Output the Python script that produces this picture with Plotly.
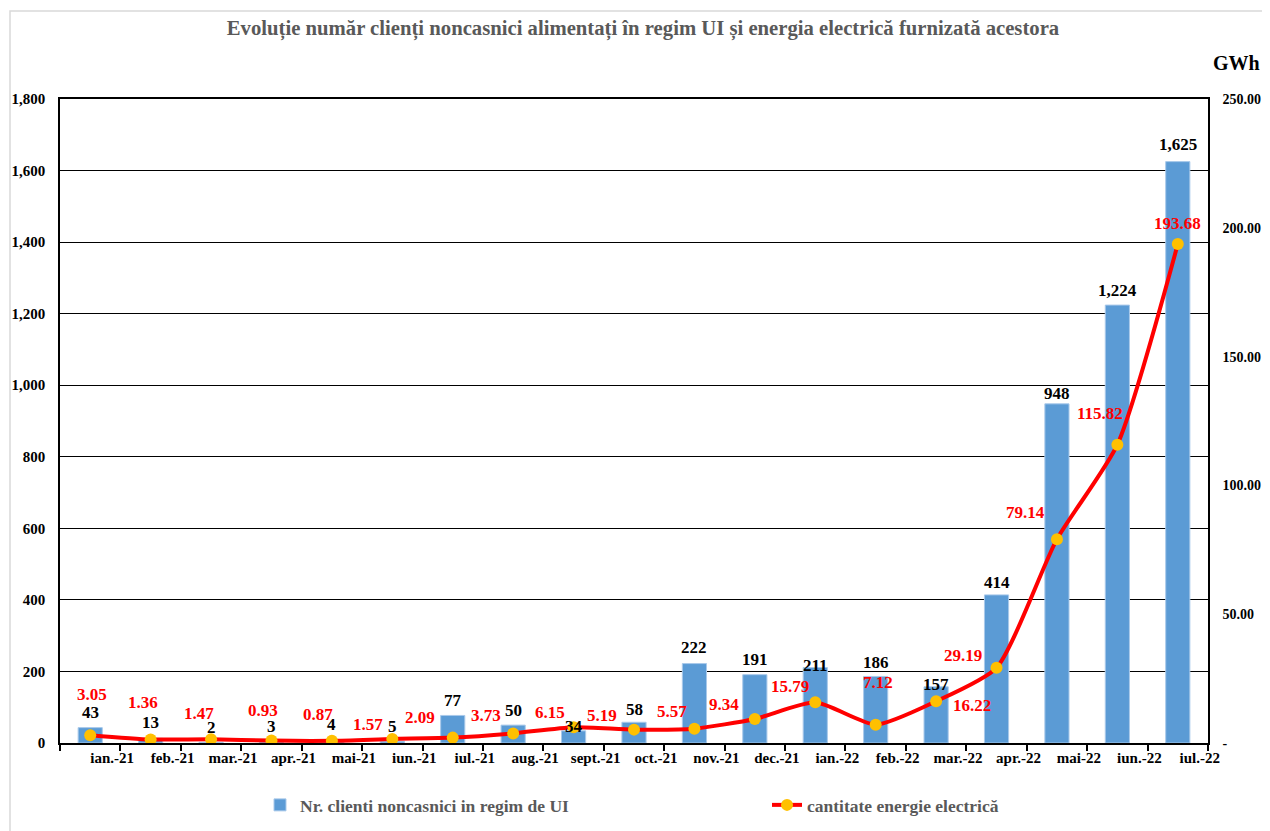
import plotly.graph_objects as go

months = ["ian.-21", "feb.-21", "mar.-21", "apr.-21", "mai-21", "iun.-21", "iul.-21",
          "aug.-21", "sept.-21", "oct.-21", "nov.-21", "dec.-21", "ian.-22", "feb.-22",
          "mar.-22", "apr.-22", "mai-22", "iun.-22", "iul.-22"]
clients = [43, 13, 2, 3, 4, 5, 77, 50, 34, 58, 222, 191, 211, 186, 157, 414, 948, 1224, 1625]
energy = [3.05, 1.36, 1.47, 0.93, 0.87, 1.57, 2.09, 3.73, 6.15, 5.19, 5.57, 9.34,
          15.79, 7.12, 16.22, 29.19, 79.14, 115.82, 193.68]
left_ticks = [0, 200, 400, 600, 800, 1000, 1200, 1400, 1600, 1800]
right_ticks = [0, 50, 100, 150, 200, 250]
right_ticktext = ["-", "50.00", "100.00", "150.00", "200.00", "250.00"]

# label placement (pixels) -- styling only
bar_label_up = [15, 16, 15, 15, 17, 15, 15, 15, 4, 13, 16, 15, 2, 14, 2, 12, 10, 15, 17]
line_label_dx = [2, -8, -12, -8, -14, -24, -33, -27, -24, -32, -22, -31, -25, 2, 36, -34, -31, -17, 0]
line_label_up = [41, 37, 26, 30, 26, 14, 20, 18, 15, 14, 17, 14, 16, 42, -4, 12, 27, 31, 21]

FONT = "Times New Roman, Liberation Serif, serif"
OFF = 8  # page body margin
W, H = 1270 - OFF, 831 - OFF
L, R, T = 60 - OFF, 62, 99 - OFF
B = H - (743 - OFF)
PW, PH = W - L - R, H - T - B


def px_x(page_x):
    return (page_x - OFF - L) / PW


def px_y(page_y):
    return (T + PH - (page_y - OFF)) / PH


fig = go.Figure()
fig.add_trace(go.Bar(
    x=months, y=clients, name="Nr. clienti noncasnici in regim de UI",
    marker=dict(color="#5B9BD5", line=dict(color="#A9C9EA", width=1)),
    yaxis="y", hoverinfo="x+y",
))
fig.add_trace(go.Scatter(
    x=months, y=energy, name="cantitate energie electrică", yaxis="y2",
    mode="lines+markers",
    line=dict(color="#FF0000", width=4, shape="spline", smoothing=0.6),
    marker=dict(color="#FFC000", size=12),
))

annotations = []
for m, v, up in zip(months, clients, bar_label_up):
    annotations.append(dict(
        x=m, y=v, xref="x", yref="y", text=f"{v:,}", showarrow=False,
        yanchor="middle", yshift=up,
        font=dict(family=FONT, size=17, color="black", weight="bold"),
    ))
for m, v, dx, up in zip(months, energy, line_label_dx, line_label_up):
    annotations.append(dict(
        x=m, y=v, xref="x", yref="y2", text=f"{v:.2f}", showarrow=False,
        yanchor="middle", xshift=dx, yshift=up,
        font=dict(family=FONT, size=17, color="#FF0000", weight="bold"),
    ))
annotations.append(dict(
    x=px_x(1236), y=px_y(63), xref="paper", yref="paper",
    text="GWh", showarrow=False, xanchor="center", yanchor="middle",
    font=dict(family=FONT, size=20, color="black", weight="bold"),
))

fig.update_layout(
    width=W, height=H,
    margin=dict(l=L, r=R, t=T, b=B, autoexpand=False),
    paper_bgcolor="white", plot_bgcolor="white",
    title=dict(
        text="Evoluție număr clienți noncasnici alimentați în regim UI și energia electrică furnizată acestora",
        x=px_x(643), xref="paper", xanchor="center", y=1 - (28 - OFF) / H, yanchor="middle",
        font=dict(family=FONT, size=20.7, color="#595959", weight="bold"),
    ),
    bargap=0.6,
    showlegend=True,
    legend=dict(
        orientation="h", x=px_x(260), xanchor="left", y=px_y(805), yanchor="middle",
        font=dict(family=FONT, size=17.5, color="#595959", weight="bold"),
        entrywidth=462, entrywidthmode="pixels",
        bgcolor="rgba(0,0,0,0)", traceorder="normal",
    ),
    xaxis=dict(
        type="category", range=[-0.5, len(months) - 0.5],
        showline=True, linecolor="black", linewidth=1.5, mirror=True,
        ticks="outside", tickson="boundaries", ticklen=6, tickcolor="black", tickwidth=1.5,
        ticklabelshift=22, tickangle=0,
        tickfont=dict(family=FONT, size=15, color="black", weight="bold"),
        showgrid=False, zeroline=False, fixedrange=True,
    ),
    yaxis=dict(
        range=[0, 1800], tickvals=left_ticks, tickformat=",",
        showline=True, linecolor="black", linewidth=1.5,
        showgrid=True, gridcolor="black", gridwidth=1, zeroline=False,
        ticks="", ticklabelstandoff=10,
        tickfont=dict(family=FONT, size=15, color="black", weight="bold"),
        fixedrange=True,
    ),
    yaxis2=dict(
        range=[0, 250], overlaying="y", side="right",
        tickvals=right_ticks, ticktext=right_ticktext,
        showline=True, linecolor="black", linewidth=1.5,
        showgrid=False, zeroline=False, ticks="", ticklabelstandoff=10,
        tickfont=dict(family=FONT, size=14, color="black", weight="bold"),
        fixedrange=True,
    ),
    annotations=annotations,
    shapes=[dict(
        type="rect", xref="paper", yref="paper",
        x0=px_x(10), x1=px_x(1290),
        y0=px_y(850), y1=px_y(11),
        line=dict(color="#D9D9D9", width=1.5), fillcolor="rgba(0,0,0,0)", layer="below",
    )],
)

fig.write_html("out.html")
